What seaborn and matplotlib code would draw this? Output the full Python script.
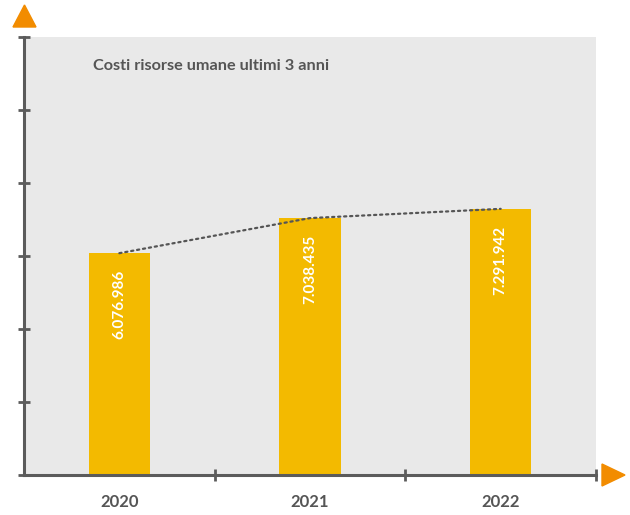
import matplotlib
matplotlib.use("Agg")
import matplotlib.pyplot as plt
from matplotlib.patches import Polygon
import seaborn as sns
import pandas as pd

# Costi del personale per anno (euro)
anni = ["2020", "2021", "2022"]
costi = [6076986, 7038435, 7291942]
titolo = "Costi risorse umane ultimi 3 anni"

GIALLO = "#F3BA00"
GRIGIO_SFONDO = "#E9E9E9"
GRIGIO_ASSI = "#5B5B5B"
GRIGIO_TESTO = "#555555"
ARANCIO = "#F28C00"

sns.set_theme(style="white")
plt.rcParams["font.family"] = ["Lato", "DejaVu Sans"]

df = pd.DataFrame({"anno": anni, "costo": costi})

fig = plt.figure(figsize=(6.3, 5.15), dpi=100)
W, H = 630, 515
ax = fig.add_axes([24 / W, 1 - 475 / H, (596 - 24) / W, (475 - 37) / H])
ax.set_facecolor(GRIGIO_SFONDO)

sns.barplot(data=df, x="anno", y="costo", color=GIALLO, width=0.32,
            saturation=1, linewidth=0, edgecolor=GIALLO, ax=ax)

# linea di tendenza punteggiata sui vertici delle barre
xs = [p.get_x() + p.get_width() / 2 for p in ax.patches]
ys = [p.get_height() for p in ax.patches]
ax.plot(xs, ys, color=GRIGIO_TESTO, lw=1.6, linestyle=(0, (1, 1.7)),
        dash_capstyle="round", zorder=4)

# etichette dei valori dentro le barre
for x, v in zip(xs, costi):
    etichetta = f"{v:,}".replace(",", ".")
    ax.annotate(etichetta, (x, v), xytext=(0, -12), textcoords="offset points",
                rotation=90, ha="center", va="top", color="white",
                fontsize=11, fontweight="bold", zorder=5)

ax.set_xlim(-0.5, 2.5)
ax.set_ylim(0, 12_000_000)
ax.set_xlabel("")
ax.set_ylabel("")

for s in ("top", "right"):
    ax.spines[s].set_visible(False)
for s in ("left", "bottom"):
    ax.spines[s].set_color(GRIGIO_ASSI)
    ax.spines[s].set_linewidth(2.2)

ax.set_yticks(range(0, 12_000_001, 2_000_000))
ax.set_yticklabels([])
ax.tick_params(axis="y", direction="inout", length=9, width=2,
               color=GRIGIO_ASSI, left=True)

ax.set_xticks([0, 1, 2])
ax.set_xticklabels(anni)
ax.set_xticks([0.5, 1.5, 2.5], minor=True)
ax.tick_params(axis="x", which="major", length=0, pad=14,
               labelsize=12, labelcolor=GRIGIO_TESTO)
ax.tick_params(axis="x", which="minor", direction="inout", length=9,
               width=2, color=GRIGIO_ASSI, bottom=True)
for t in ax.get_xticklabels():
    t.set_fontweight("bold")

fig.text(93 / W, 1 - 66 / H, titolo, fontsize=11.7, fontweight="bold",
         color=GRIGIO_TESTO, va="center", ha="left")

# frecce arancioni in cima e alla fine degli assi
def px(x, y):
    return (x / W, 1 - y / H)

fig.patches.append(Polygon([px(13, 27), px(36, 27), px(24.5, 5)],
                           closed=True, color=ARANCIO,
                           transform=fig.transFigure, figure=fig))
fig.patches.append(Polygon([px(602, 464), px(602, 486), px(625, 475)],
                           closed=True, color=ARANCIO,
                           transform=fig.transFigure, figure=fig))

fig.savefig("out.png", dpi=100, facecolor="white")
